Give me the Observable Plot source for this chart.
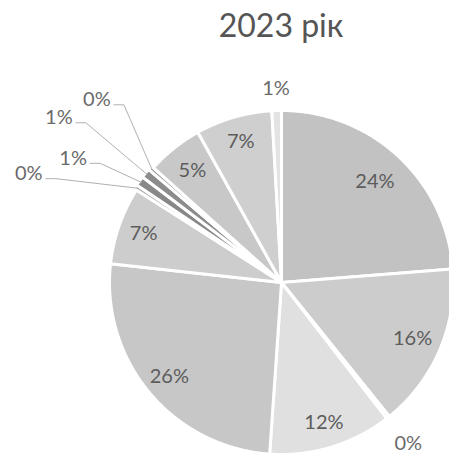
<!DOCTYPE html>
<html><head><meta charset="utf-8">
<script src="https://cdn.jsdelivr.net/npm/d3@7"></script>
<script src="https://cdn.jsdelivr.net/npm/@observablehq/plot@0.6"></script>
<style>body{margin:0;background:#fff}#chart svg{display:block}</style>
</head><body><div id="chart"></div>
<script>
// ---- data ----
const title = "2023 рік";
const labels = ["24%","16%","0%","12%","26%","7%","0%","1%","1%","0%","5%","7%","1%"];
const shares = [23.8, 15.5, 0.3, 11.6, 25.7, 7.3, 0.4, 0.9, 0.9, 0.4, 5.3, 7.2, 0.9];
const fills  = ["#c2c2c2","#cccccc","#dadada","#e0e0e0","#c7c7c7","#cdcdcd","#989898","#888888","#8c8c8c","#999999","#c8c8c8","#cfcfcf","#e3e3e3"];

// ---- layout (label radius as fraction of pie radius; callouts have own angle) ----
const labelLayout = [
  {r:0.80},{r:0.83},{r:1.19},{r:0.85},{r:0.85},{r:0.85},
  {r:1.60,a:293.3,lead:true},{r:1.41,a:300.8,lead:true},{r:1.61,a:306.5,lead:true},{r:1.51,a:314.7,lead:true},
  {r:0.83},{r:0.85},{r:1.13}
];
const W = 449, H = 457, R = 172, cx = 281, cy = 282;
const explodeIdx = new Set([6,7,8,9]);

const total = d3.sum(shares);
const rad = d => d * Math.PI / 180;
const pt = (r, a) => ({x: r * Math.sin(rad(a)), y: r * Math.cos(rad(a))});

let cum = 0;
const slices = shares.map((v, i) => {
  const a0 = cum / total * 360; cum += v; const a1 = cum / total * 360;
  return {i, a0, a1, mid: (a0 + a1) / 2, fill: fills[i], label: labels[i]};
});

const poly = [];
for (const s of slices) {
  const off = explodeIdx.has(s.i) ? pt(0.015, s.mid) : {x: 0, y: 0};
  const n = Math.max(2, Math.ceil((s.a1 - s.a0) / 0.5));
  poly.push({i: s.i, fill: s.fill, x: off.x, y: off.y});
  for (let k = 0; k <= n; k++) {
    const p = pt(1, s.a0 + (s.a1 - s.a0) * k / n);
    poly.push({i: s.i, fill: s.fill, x: p.x + off.x, y: p.y + off.y});
  }
  poly.push({i: s.i, fill: s.fill, x: off.x, y: off.y});
}

const textData = slices.map(s => {
  const L = labelLayout[s.i];
  const p = pt(L.r, L.a ?? s.mid);
  return {...p, text: s.label, lead: !!L.lead, outside: L.r > 1, mid: s.mid, i: s.i};
});

const leaders = [];
for (const t of textData.filter(d => d.lead)) {
  const sx = t.x + 17 / R, sy = t.y - 5 / R;
  const end = pt(1.0, t.mid);
  leaders.push({i: t.i, x: sx, y: sy});
  leaders.push({i: t.i, x: sx + 10 / R, y: sy});
  leaders.push({i: t.i, x: end.x, y: end.y});
}

const font = "Lato, 'Open Sans', sans-serif";
const chart = Plot.plot({
  width: W, height: H, margin: 0,
  x: {domain: [-cx / R, (W - cx) / R], axis: null},
  y: {domain: [(cy - H) / R, cy / R], axis: null},
  color: {type: "identity"},
  style: {background: "#fff"},
  marks: [
    Plot.line(poly, {x: "x", y: "y", z: "i", fill: "fill", stroke: "#fff", strokeWidth: 3, strokeLinejoin: "round", curve: "linear"}),
    Plot.line(leaders, {x: "x", y: "y", z: "i", stroke: "#b0b0b0", strokeWidth: 1}),
    Plot.text(textData, {x: "x", y: "y", text: "text", fontSize: 20, fontFamily: font, fill: d => d.outside ? "#6a6a6a" : "#5c5c5c"}),
    Plot.text([title], {frameAnchor: "top", dx: 56, dy: 26, lineAnchor: "middle", fontSize: 32, fontFamily: font, fill: "#555555"})
  ]
});
document.getElementById("chart").append(chart);
</script>
</body></html>
